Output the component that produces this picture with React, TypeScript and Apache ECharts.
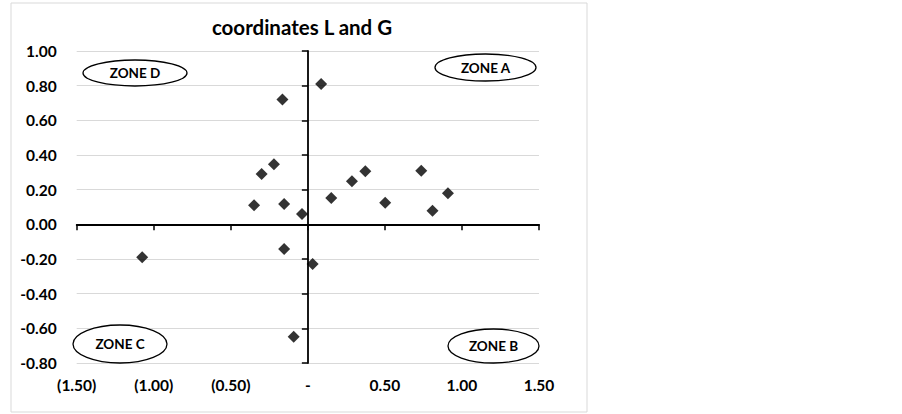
import React, { useEffect, useRef } from 'react';
import * as echarts from 'echarts';

// Data (L on x, G on y)
const lValues = [0.086, -0.165, -1.075, -0.349, -0.30, -0.22, -0.154, -0.154, -0.038, 0.031, 0.152, 0.286, 0.373, 0.502, 0.736, 0.809, 0.909, -0.092];
const gValues = [0.81, 0.72, -0.19, 0.11, 0.29, 0.346, 0.117, -0.143, 0.059, -0.229, 0.152, 0.248, 0.306, 0.125, 0.309, 0.078, 0.179, -0.649];

const xMin = -1.5;
const xMax = 1.5;
const xStep = 0.5;
const yMin = -0.8;
const yMax = 1.0;
const yStep = 0.2;

const titleText = 'coordinates L and G';
const zoneNames = ['ZONE A', 'ZONE B', 'ZONE C', 'ZONE D'];

const FONT = 'Lato, "Open Sans", sans-serif';

function fmtX(v: number): string {
  if (Math.abs(v) < 1e-9) return '-';
  if (v < 0) return '(' + Math.abs(v).toFixed(2) + ')';
  return v.toFixed(2);
}
function fmtY(v: number): string {
  if (Math.abs(v) < 1e-9) return '0.00';
  return v.toFixed(2);
}

export default function App() {
  const ref = useRef<HTMLDivElement>(null);
  useEffect(() => {
    if (!ref.current) return;
    const chart = echarts.init(ref.current, undefined, { renderer: 'svg' });
    const points = lValues.map((x, i) => [x, gValues[i]]);
    const labelStyle = { fontFamily: FONT, fontWeight: 'bold' as const, fontSize: 15.5, color: '#000' };
    const zoneBoxes = [
      { cx: 485.5, cy: 67.5, rx: 50.5, ry: 13.5, name: zoneNames[0] },
      { cx: 493.5, cy: 346, rx: 45.5, ry: 17, name: zoneNames[1] },
      { cx: 120, cy: 344, rx: 47, ry: 19, name: zoneNames[2] },
      { cx: 135, cy: 73, rx: 52, ry: 13, name: zoneNames[3] },
    ];
    const graphics: any[] = [
      {
        type: 'rect',
        shape: { x: 11, y: 3, width: 576, height: 409 },
        style: { fill: 'none', stroke: '#d9d9d9', lineWidth: 1 },
        z: 0,
        silent: true,
      },
      {
        type: 'text',
        x: 302,
        y: 27,
        style: {
          text: titleText,
          fontFamily: FONT,
          fontWeight: 'bold',
          fontSize: 20.5,
          fill: '#000',
          align: 'center',
          verticalAlign: 'middle',
        },
        z: 10,
      },
    ];
    zoneBoxes.forEach((z) => {
      graphics.push({
        type: 'ellipse',
        shape: { cx: z.cx, cy: z.cy, rx: z.rx, ry: z.ry },
        style: { fill: '#fff', stroke: '#000', lineWidth: 1.3 },
        z: 10,
      });
      graphics.push({
        type: 'text',
        x: z.cx,
        y: z.cy,
        style: {
          text: z.name,
          fontFamily: FONT,
          fontWeight: 'bold',
          fontSize: 13.5,
          fill: '#000',
          align: 'center',
          verticalAlign: 'middle',
        },
        z: 11,
      });
    });

    chart.setOption({
      animation: false,
      backgroundColor: '#fff',
      grid: { left: 76.7, right: 363, top: 51, bottom: 51, containLabel: false },
      xAxis: [
        {
          type: 'value',
          min: xMin,
          max: xMax,
          interval: xStep,
          position: 'bottom',
          axisLine: { show: true, onZero: true, lineStyle: { color: '#000', width: 1.8 } },
          axisTick: { show: true, length: 6, lineStyle: { color: '#000', width: 1.5 } },
          axisLabel: { show: false },
          splitLine: { show: false },
        },
        {
          type: 'value',
          min: xMin,
          max: xMax,
          interval: xStep,
          position: 'bottom',
          axisLine: { show: false, onZero: false },
          axisTick: { show: false },
          axisLabel: { ...labelStyle, margin: 14, formatter: (v: number) => fmtX(v) },
          splitLine: { show: false },
        },
      ],
      yAxis: [
        {
          type: 'value',
          min: yMin,
          max: yMax,
          interval: yStep,
          position: 'left',
          axisLine: { show: true, onZero: true, lineStyle: { color: '#000', width: 1.8 } },
          axisTick: { show: true, length: 6, lineStyle: { color: '#000', width: 1.5 } },
          axisLabel: { show: false },
          splitLine: { show: true, lineStyle: { color: '#d9d9d9', width: 1 } },
        },
        {
          type: 'value',
          min: yMin,
          max: yMax,
          interval: yStep,
          position: 'left',
          axisLine: { show: false, onZero: false },
          axisTick: { show: false },
          axisLabel: { ...labelStyle, margin: 20, formatter: (v: number) => fmtY(v) },
          splitLine: { show: false },
        },
      ],
      series: [
        {
          type: 'scatter',
          xAxisIndex: 0,
          yAxisIndex: 0,
          symbol: 'diamond',
          symbolSize: 12,
          itemStyle: { color: '#000' },
          data: points,
          z: 5,
        },
      ],
      graphic: graphics,
    });
    return () => chart.dispose();
  }, []);
  return (
    <div
      ref={ref}
      style={{ position: 'fixed', left: 0, top: 0, width: 902, height: 414, background: '#fff' }}
    />
  );
}
